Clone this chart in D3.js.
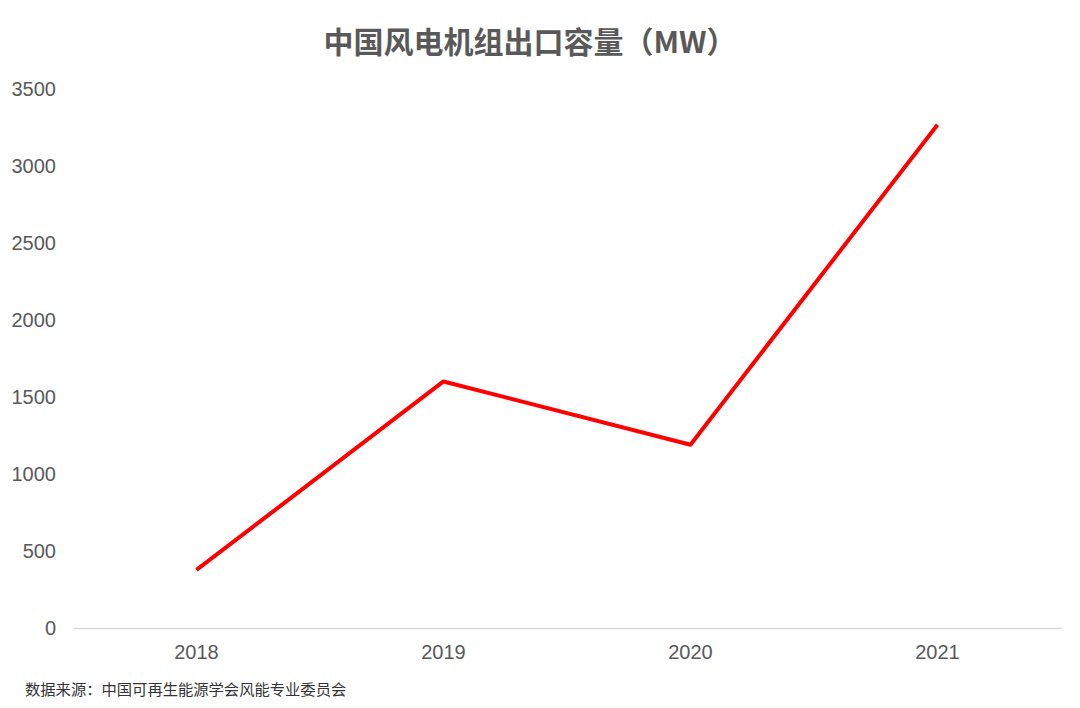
<!DOCTYPE html>
<html>
<head>
<meta charset="utf-8">
<script src="https://cdn.jsdelivr.net/npm/d3@7"></script>
<style>
  body { margin: 0; background: #fff; }
  svg { display: block; font-family: "Liberation Sans", Arial, "Noto Sans CJK SC", sans-serif; }
</style>
</head>
<body>
<div id="chart"></div>
<script>
const years = ["2018", "2019", "2020", "2021"];
const capacity = [377, 1601, 1190, 3268];
const yTicks = [0, 500, 1000, 1500, 2000, 2500, 3000, 3500];

const width = 1080, height = 708;
const margin = {top: 89, right: 19, bottom: 80, left: 73};

const svg = d3.select("#chart").append("svg")
  .attr("width", width)
  .attr("height", height);

const x = d3.scaleBand()
  .domain(years)
  .range([margin.left, width - margin.right]);

const y = d3.scaleLinear()
  .domain([0, 3500])
  .range([height - margin.bottom, margin.top]);

// title
svg.append("text")
  .attr("x", 530)
  .attr("y", 53)
  .attr("text-anchor", "middle")
  .attr("fill", "#595959")
  .attr("font-weight", "bold")
  .attr("font-family", "'Noto Sans CJK SC', sans-serif")
  .style("font-size", "30px")
  .text("中国风电机组出口容量（MW）");

// y axis labels (no line)
svg.append("g")
  .selectAll("text")
  .data(yTicks)
  .enter()
  .append("text")
  .attr("x", 56)
  .attr("y", d => y(d))
  .attr("dy", "0.35em")
  .attr("text-anchor", "end")
  .attr("fill", "#595959")
  .style("font-size", "20px")
  .text(d => d);

// x axis
const xAxis = svg.append("g")
  .attr("transform", `translate(0,${y(0)})`)
  .call(d3.axisBottom(x).tickSize(0).tickPadding(17));
xAxis.select(".domain").attr("stroke", "#d9d9d9").attr("stroke-width", 1.5);
xAxis.selectAll("text")
  .attr("fill", "#595959")
  .style("font-size", "20px")
  .style("font-family", "'Liberation Sans', Arial, sans-serif");

// line
const line = d3.line()
  .x((d, i) => x(years[i]) + x.bandwidth() / 2)
  .y(d => y(d));

svg.append("path")
  .datum(capacity)
  .attr("fill", "none")
  .attr("stroke", "#ff0000")
  .attr("stroke-width", 4)
  .attr("stroke-linejoin", "round")
  .attr("d", line);

// source
svg.append("text")
  .attr("x", 25)
  .attr("y", 695)
  .attr("fill", "#333")
  .attr("font-family", "'Noto Sans CJK SC', sans-serif")
  .style("font-size", "15.3px")
  .text("数据来源：中国可再生能源学会风能专业委员会");
</script>
</body>
</html>
